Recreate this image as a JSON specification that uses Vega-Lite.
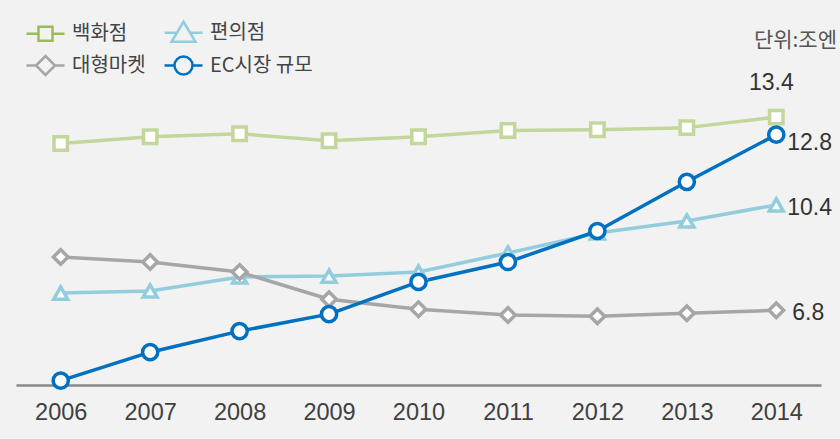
{
  "$schema": "https://vega.github.io/schema/vega-lite/v6.json",
  "autosize": {"type": "none"},
  "width": 805,
  "height": 366,
  "padding": {"left": 16, "top": 19, "right": 19, "bottom": 54},
  "background": "#f2f2f2",
  "config": {
    "view": {"stroke": null},
    "font": "Liberation Sans, Noto Sans CJK KR",
    "text": {"font": "Liberation Sans, Noto Sans CJK KR"}
  },
  "title": {
    "text": "단위:조엔",
    "anchor": "end",
    "frame": "group",
    "orient": "top",
    "fontSize": 21,
    "fontWeight": "normal",
    "color": "#555555",
    "font": "Noto Sans CJK KR",
    "dx": 16,
    "dy": 36
  },
  "data": {
    "values": [
      {"year": "2006", "series": "백화점", "value": 12.5},
      {"year": "2007", "series": "백화점", "value": 12.73},
      {"year": "2008", "series": "백화점", "value": 12.83},
      {"year": "2009", "series": "백화점", "value": 12.59},
      {"year": "2010", "series": "백화점", "value": 12.73},
      {"year": "2011", "series": "백화점", "value": 12.94},
      {"year": "2012", "series": "백화점", "value": 12.97},
      {"year": "2013", "series": "백화점", "value": 13.04},
      {"year": "2014", "series": "백화점", "value": 13.4},
      {"year": "2006", "series": "편의점", "value": 7.39},
      {"year": "2007", "series": "편의점", "value": 7.46},
      {"year": "2008", "series": "편의점", "value": 7.94},
      {"year": "2009", "series": "편의점", "value": 7.97},
      {"year": "2010", "series": "편의점", "value": 8.11},
      {"year": "2011", "series": "편의점", "value": 8.76},
      {"year": "2012", "series": "편의점", "value": 9.44},
      {"year": "2013", "series": "편의점", "value": 9.85},
      {"year": "2014", "series": "편의점", "value": 10.4},
      {"year": "2006", "series": "대형마켓", "value": 8.62},
      {"year": "2007", "series": "대형마켓", "value": 8.45},
      {"year": "2008", "series": "대형마켓", "value": 8.11},
      {"year": "2009", "series": "대형마켓", "value": 7.18},
      {"year": "2010", "series": "대형마켓", "value": 6.84},
      {"year": "2011", "series": "대형마켓", "value": 6.64},
      {"year": "2012", "series": "대형마켓", "value": 6.6},
      {"year": "2013", "series": "대형마켓", "value": 6.7},
      {"year": "2014", "series": "대형마켓", "value": 6.8},
      {"year": "2006", "series": "EC시장 규모", "value": 4.4},
      {"year": "2007", "series": "EC시장 규모", "value": 5.37},
      {"year": "2008", "series": "EC시장 규모", "value": 6.09},
      {"year": "2009", "series": "EC시장 규모", "value": 6.67},
      {"year": "2010", "series": "EC시장 규모", "value": 7.77},
      {"year": "2011", "series": "EC시장 규모", "value": 8.45},
      {"year": "2012", "series": "EC시장 규모", "value": 9.51},
      {"year": "2013", "series": "EC시장 규모", "value": 11.19},
      {"year": "2014", "series": "EC시장 규모", "value": 12.8}
    ]
  },
  "encoding": {
    "x": {
      "field": "year",
      "type": "ordinal",
      "scale": {"type": "point", "padding": 0.5},
      "axis": {
        "title": null,
        "labelAngle": 0,
        "labelFontSize": 23.5,
        "labelColor": "#404040",
        "labelPadding": 15,
        "ticks": false,
        "domainColor": "#888888",
        "domainWidth": 2.5,
        "grid": false
      }
    },
    "y": {
      "field": "value",
      "type": "quantitative",
      "scale": {"domain": [4.25, 16.75], "zero": false, "nice": false},
      "axis": null
    }
  },
  "layer": [
    {
      "mark": {"type": "line", "strokeCap": "round", "strokeJoin": "round"},
      "encoding": {
        "color": {
          "field": "series",
          "type": "nominal",
          "scale": {
            "domain": ["백화점", "편의점", "대형마켓", "EC시장 규모"],
            "range": ["#c3d69b", "#93cddd", "#a6a6a6", "#0070c0"]
          },
          "legend": null
        },
        "strokeWidth": {
          "field": "series",
          "type": "nominal",
          "scale": {
            "domain": ["백화점", "편의점", "대형마켓", "EC시장 규모"],
            "range": [3.5, 3.5, 3.5, 4.5]
          },
          "legend": null
        }
      }
    },
    {
      "mark": {"type": "point", "filled": true, "fill": "white", "strokeWidth": 3.5, "opacity": 1},
      "encoding": {
        "stroke": {
          "field": "series",
          "type": "nominal",
          "scale": {
            "domain": ["백화점", "편의점", "대형마켓", "EC시장 규모"],
            "range": ["#c3d69b", "#93cddd", "#a6a6a6", "#0070c0"]
          },
          "legend": null
        },
        "shape": {
          "field": "series",
          "type": "nominal",
          "scale": {
            "domain": ["백화점", "편의점", "대형마켓", "EC시장 규모"],
            "range": ["square", "triangle-up", "diamond", "circle"]
          },
          "legend": null
        },
        "size": {
          "field": "series",
          "type": "nominal",
          "scale": {
            "domain": ["백화점", "편의점", "대형마켓", "EC시장 규모"],
            "range": [180, 230, 160, 190]
          },
          "legend": null
        }
      }
    },
    {
      "transform": [{"filter": "datum.year > 3000"}],
      "mark": {"type": "point", "filled": false, "strokeWidth": 2.5, "opacity": 1},
      "encoding": {
        "stroke": {
          "field": "series",
          "type": "nominal",
          "scale": {
            "domain": ["백화점", "편의점", "대형마켓", "EC시장 규모"],
            "range": ["#9bbb59", "#93cddd", "#a6a6a6", "#0070c0"]
          },
          "legend": {
            "orient": "none",
            "direction": "horizontal",
            "legendX": 18,
            "legendY": 2,
            "columns": 2,
            "title": null,
            "labelFontSize": 20,
            "labelColor": "#444444",
            "labelFont": "Noto Sans CJK KR",
            "labelOffset": 15,
            "symbolSize": 400,
            "symbolStrokeWidth": 2.5,
            "columnPadding": 13,
            "rowPadding": 4,
            "padding": 0,
            "encode": {"symbols": {"update": {"fill": {"value": "white"}, "strokeWidth": {"value": 2.5}, "opacity": {"value": 1}}}}
          }
        },
        "shape": {
          "field": "series",
          "type": "nominal",
          "scale": {
            "domain": ["백화점", "편의점", "대형마켓", "EC시장 규모"],
            "range": [
              "M-1.9,0H-0.7M0.7,0H1.9M-0.7,-0.7H0.7V0.7H-0.7Z",
              "M-1.9,0H-0.66M0.66,0H1.9M0,-1.1L1.2,0.9H-1.2Z",
              "M-1.9,0H-0.95M0.95,0H1.9M0,-0.95L0.95,0L0,0.95L-0.95,0Z",
              "M-1.9,0H-0.9M0.9,0H1.9M0.9,0A0.9,0.9,0,1,1,-0.9,0A0.9,0.9,0,1,1,0.9,0Z"
            ]
          },
          "legend": {
            "orient": "none",
            "direction": "horizontal",
            "legendX": 18,
            "legendY": 2,
            "columns": 2,
            "title": null,
            "labelFontSize": 20,
            "labelColor": "#444444",
            "labelFont": "Noto Sans CJK KR",
            "labelOffset": 15,
            "symbolSize": 400,
            "columnPadding": 13,
            "rowPadding": 4,
            "padding": 0
          }
        }
      }
    },
    {
      "transform": [{"filter": "datum.year == '2014' && datum.series == '백화점'"}],
      "mark": {"type": "text", "fontSize": 23, "color": "#333333", "align": "center", "baseline": "middle", "dx": -5, "dy": -34},
      "encoding": {"text": {"field": "value", "type": "quantitative", "format": ".1f"}}
    },
    {
      "transform": [{"filter": "datum.year == '2014' && datum.series == 'EC시장 규모'"}],
      "mark": {"type": "text", "fontSize": 23, "color": "#333333", "align": "left", "baseline": "middle", "dx": 11, "dy": 8},
      "encoding": {"text": {"field": "value", "type": "quantitative", "format": ".1f"}}
    },
    {
      "transform": [{"filter": "datum.year == '2014' && datum.series == '편의점'"}],
      "mark": {"type": "text", "fontSize": 23, "color": "#333333", "align": "left", "baseline": "middle", "dx": 11, "dy": 3},
      "encoding": {"text": {"field": "value", "type": "quantitative", "format": ".1f"}}
    },
    {
      "transform": [{"filter": "datum.year == '2014' && datum.series == '대형마켓'"}],
      "mark": {"type": "text", "fontSize": 23, "color": "#333333", "align": "left", "baseline": "middle", "dx": 16, "dy": 3},
      "encoding": {"text": {"field": "value", "type": "quantitative", "format": ".1f"}}
    }
  ],
  "resolve": {
    "scale": {"shape": "independent", "size": "independent", "stroke": "independent"},
    "legend": {"shape": "independent", "stroke": "independent"}
  }
}
